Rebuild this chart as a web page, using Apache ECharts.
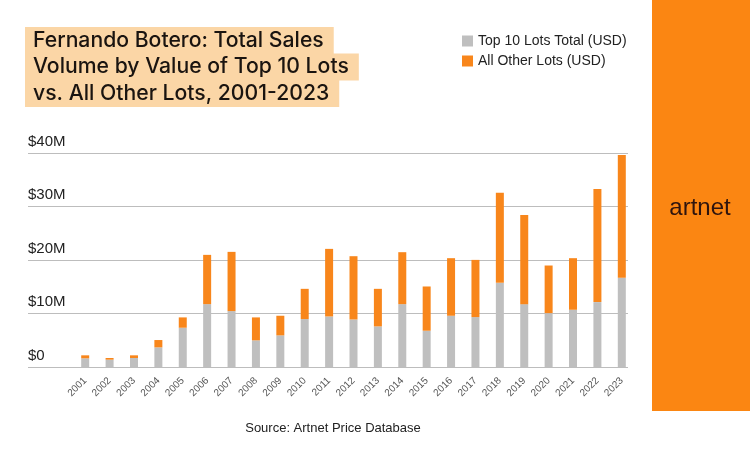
<!DOCTYPE html>
<html>
<head>
<meta charset="utf-8">
<script src="https://cdn.jsdelivr.net/npm/echarts@6/dist/echarts.min.js"></script>
<style>
	html, body { margin: 0; padding: 0; background: #fff; }
	#chart { width: 750px; height: 450px; }
</style>
</head>
<body>
<div id="chart"></div>
<script>
// Values in millions of USD
var years = ['2001', '2002', '2003', '2004', '2005', '2006', '2007', '2008', '2009', '2010', '2011', '2012',
	'2013', '2014', '2015', '2016', '2017', '2018', '2019', '2020', '2021', '2022', '2023'];
var top10Lots = [1.62, 1.37, 1.68, 3.67, 7.34, 11.75, 10.45, 4.98, 5.91, 8.96, 9.45, 8.89,
	7.59, 11.75, 6.78, 9.58, 9.33, 15.73, 11.75, 10.07, 10.70, 12.13, 16.67];
var otherLots = [0.56, 0.31, 0.50, 1.37, 1.93, 9.21, 11.07, 4.29, 3.67, 5.65, 12.63, 11.82,
	7.02, 9.71, 8.27, 10.76, 10.69, 16.86, 16.67, 8.90, 9.64, 21.14, 22.94];
var yTicks = [0, 10, 20, 30, 40];
var titleLines = ['Fernando Botero: Total Sales', 'Volume by Value of Top 10 Lots', 'vs. All Other Lots, 2001-2023'];

var chart = echarts.init(document.getElementById('chart'));

var titleFont = { fontFamily: 'Inter', fontSize: 21.2, fontWeight: 500, color: '#1a1410', lineHeight: 23 };
var titles = titleLines.map(function (line, i) {
	return {
		text: line,
		left: 25,
		top: 27 + i * 26.5,
		backgroundColor: '#fbd6a6',
		padding: [2, 10, 2, 8],
		textStyle: titleFont
	};
});

var option = {
	backgroundColor: '#ffffff',
	animation: false,
	title: titles,
	legend: {
		orient: 'vertical',
		left: 457,
		top: 29,
		icon: 'rect',
		itemWidth: 11,
		itemHeight: 11,
		itemGap: 6,
		textStyle: { fontFamily: 'Liberation Sans', fontSize: 14, color: '#222' },
		data: ['Top 10 Lots Total (USD)', 'All Other Lots (USD)']
	},
	grid: [
		// grid lines and dollar labels
		{ left: 28, right: 122, top: 153, bottom: 83 },
		// bars
		{ left: 73, right: 116, top: 153, bottom: 83 }
	],
	xAxis: [
		{ type: 'value', gridIndex: 0, show: false, min: 0, max: 1 },
		{
			type: 'category', gridIndex: 1, data: years,
			axisLine: { show: false }, axisTick: { show: false },
			axisLabel: {
				rotate: 45, margin: 12, fontFamily: 'Liberation Sans', fontSize: 10, color: '#555', interval: 0
			}
		}
	],
	yAxis: [
		{
			type: 'value', gridIndex: 0, min: 0, max: 40, interval: 10,
			axisLine: { show: false }, axisTick: { show: false },
			splitLine: { lineStyle: { color: '#bdbdbd', width: 1 } },
			axisLabel: {
				inside: true, margin: 0, verticalAlign: 'bottom', padding: [0, 0, 4, 0],
				fontFamily: 'Liberation Sans', fontSize: 15, color: '#222',
				formatter: function (v) { return yTicks.indexOf(v) >= 0 ? '$' + (v === 0 ? '0' : v + 'M') : ''; }
			}
		},
		{ type: 'value', gridIndex: 1, min: 0, max: 40, show: false, splitLine: { show: false } }
	],
	series: [
		{
			name: 'Top 10 Lots Total (USD)', type: 'bar', stack: 'sales',
			xAxisIndex: 1, yAxisIndex: 1, barWidth: 8,
			itemStyle: { color: '#bfbfbf' },
			data: top10Lots
		},
		{
			name: 'All Other Lots (USD)', type: 'bar', stack: 'sales',
			xAxisIndex: 1, yAxisIndex: 1, barWidth: 8,
			itemStyle: { color: '#f8861b' },
			data: otherLots
		}
	],
	graphic: [
		{ type: 'rect', left: 652, top: 0, shape: { width: 98, height: 411 }, style: { fill: '#fb8612' } },
		{
			type: 'text', x: 700, y: 208,
			style: {
				text: 'artnet', fill: '#2e140e', font: '24px "Liberation Sans"',
				textAlign: 'center', textVerticalAlign: 'middle'
			}
		},
		{
			type: 'text', x: 333, y: 428,
			style: {
				text: 'Source: Artnet Price Database', fill: '#222', font: '13px "Liberation Sans"',
				textAlign: 'center', textVerticalAlign: 'middle'
			}
		}
	]
};

chart.setOption(option);
</script>
</body>
</html>
